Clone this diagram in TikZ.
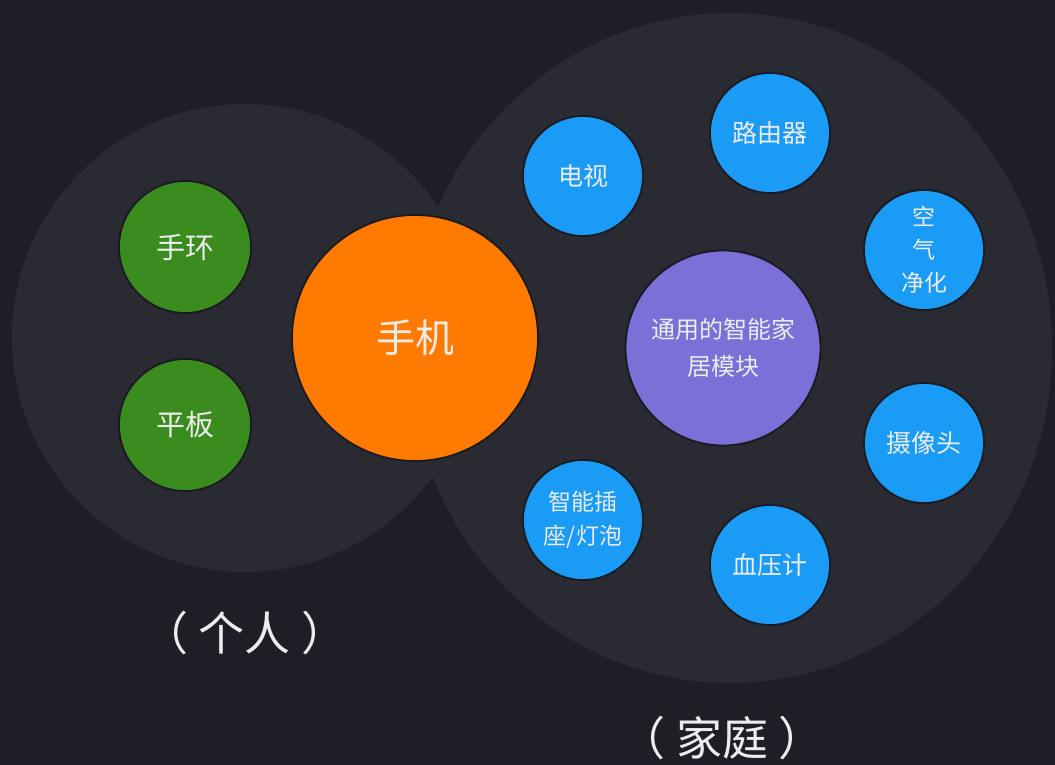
\documentclass[tikz,border=0pt]{standalone}
\usepackage{fontspec}
\setmainfont{Noto Sans CJK SC}
\definecolor{bgc}{HTML}{1E1F26}
\definecolor{zone}{HTML}{2A2A32}
\definecolor{phonec}{HTML}{FF7A00}
\definecolor{greenc}{HTML}{3A8C1E}
\definecolor{bluec}{HTML}{1A9BF5}
\definecolor{purplec}{HTML}{7A70D8}
\definecolor{txt}{HTML}{ECECEC}
\definecolor{halo}{HTML}{1A1A22}
\tikzset{
  zonebg/.style={fill=zone, draw=none},
  dot/.style={circle, inner sep=0pt, text=txt, align=center, draw=halo, line width=1.8pt},
  bluedot/.style={dot, fill=bluec, minimum size=120pt, font=\fontsize{25}{33}\selectfont},
  greendot/.style={dot, fill=greenc, minimum size=132pt, font=\fontsize{29}{34}\selectfont},
  caption/.style={text=txt, font=\fontsize{46}{50}\selectfont}
}
\begin{document}
\begin{tikzpicture}[x=1pt,y=-1pt]
\fill[bgc] (0,0) rectangle (1055,765);
\useasboundingbox (0,0) rectangle (1055,765);
\fill[zonebg] (245,338) ellipse [x radius=233, y radius=234];
\fill[zonebg] (730,348) ellipse [x radius=322, y radius=335];
\node[dot, fill=phonec, minimum size=246pt, font=\fontsize{39}{40}\selectfont] (phone) at (415,338) {手机};
\node[greendot] (band) at (185,247) {手环};
\node[greendot] (tablet) at (185,425) {平板};
\node[dot, fill=purplec, minimum size=195pt, font=\fontsize{24}{37}\selectfont] (hub) at (723,348) {通用的智能家\\居模块};
\node[bluedot] (tv) at (583,176) {电视};
\node[bluedot] (router) at (770,133) {路由器};
\node[bluedot, font=\fontsize{23}{33}\selectfont] (air) at (924,250) {空\\气\\净化};
\node[bluedot] (cam) at (924,443) {摄像头};
\node[bluedot] (bp) at (770,565) {血压计};
\node[bluedot, font=\fontsize{23}{34}\selectfont] (plug) at (583,520) {智能插\\座/灯泡};
\node[caption] (personal) at (245,633) {（\hspace{11pt}个人\hspace{11pt}）};
\node[caption] (home) at (722,738) {（\hspace{11pt}家庭\hspace{11pt}）};
\end{tikzpicture}
\end{document}
